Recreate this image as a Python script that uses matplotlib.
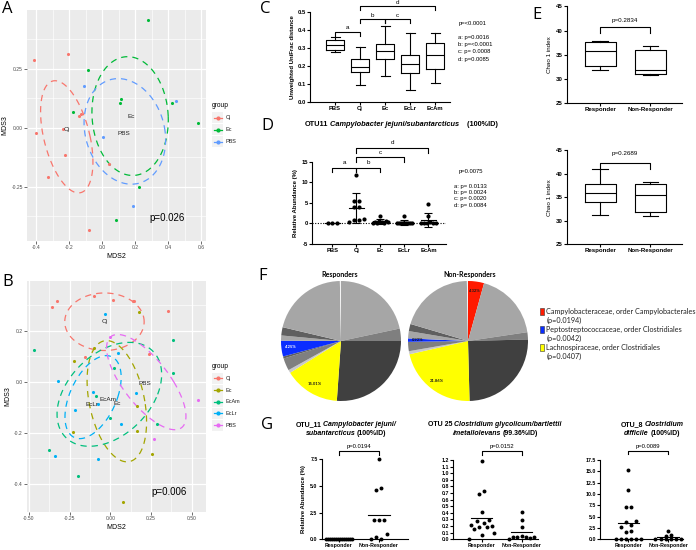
import numpy as np
import matplotlib.pyplot as plt
from matplotlib.patches import Rectangle
from matplotlib.offsetbox import TextArea, HPacker, AnnotationBbox

W, H = 696, 550
plt.rcParams['font.family'] = ['Liberation Sans', 'DejaVu Sans']

# ---------------- data ----------------
# A: NMDS, three groups
a_groups = ['Cj', 'Ec', 'PBS']
a_colors = ['#F8766D', '#00BA38', '#619CFF']
a_x = [[-0.41, -0.204, -0.402, -0.13, -0.14, -0.238, -0.222, -0.325, -0.077, 0.042],
       [0.277, -0.083, -0.176, 0.115, 0.109, 0.422, 0.582, 0.222, 0.085],
       [-0.109, 0.446, 0.008, 0.19]]
a_y = [[0.288, 0.312, -0.023, 0.058, 0.052, -0.006, -0.117, -0.209, -0.432, -0.154],
       [0.456, 0.246, 0.069, 0.124, 0.107, 0.107, 0.021, -0.249, -0.393],
       [0.177, 0.113, -0.037, -0.33]]
# ellipse: centre x, centre y, half width, half height, shear
a_ell = [(-0.214, -0.038, 0.142, 0.238, -0.071),
         (0.17, 0.05, 0.231, 0.252, -0.015),
         (0.138, -0.015, 0.244, 0.224, -0.04)]
a_lab_x = [-0.214, 0.174, 0.135]
a_lab_y = [-0.008, 0.048, -0.023]

# B: NMDS, five groups
b_groups = ['Cj', 'Ec', 'EcAm', 'EcLr', 'PBS']
b_colors = ['#F8766D', '#A3A500', '#00BF7D', '#00B0F6', '#E76BF3']
b_x = [[-0.358, -0.327, -0.102, 0.017, 0.137, 0.145, 0.356, -0.157, 0.237],
       [0.178, -0.225, -0.102, 0.161, 0.167, -0.231, 0.258, 0.079],
       [-0.467, 0.387, 0.385, 0.022, -0.091, -0.005, -0.379, -0.196, 0.284],
       [-0.034, -0.321, -0.214, -0.106, -0.073, 0.155, 0.063, -0.340, -0.075, 0.048],
       [0.539, 0.270, -0.003]]
b_y = [[0.293, 0.317, 0.336, 0.322, 0.318, 0.316, 0.278, 0.099, 0.110],
       [0.275, 0.083, 0.134, -0.094, -0.193, -0.197, -0.284, -0.473],
       [0.125, 0.163, 0.035, 0.053, -0.055, -0.142, -0.266, -0.370, -0.164],
       [0.265, 0.003, -0.112, -0.040, -0.086, -0.043, -0.167, -0.292, -0.301, 0.112],
       [-0.070, -0.226, 0.175]]
b_ell = [(-0.036, 0.236, 0.244, 0.113, 0.0),
         (0.040, -0.076, 0.172, 0.238, -0.062),
         (-0.006, -0.049, 0.297, 0.204, 0.123),
         (-0.106, -0.060, 0.152, 0.163, 0.082),
         (0.221, -0.001, 0.17, 0.187, -0.175)]
b_lab_x = [-0.034, 0.04, -0.012, -0.115, 0.213]
b_lab_y = [0.236, -0.085, -0.068, -0.089, -0.005]

# C: unweighted UniFrac box plots
c_labels = ['PBS', 'Cj', 'Ec', 'EcLr', 'EcAm']
c_whislo = [0.276, 0.093, 0.143, 0.065, 0.105]
c_q1 = [0.29, 0.165, 0.238, 0.16, 0.18]
c_med = [0.318, 0.195, 0.285, 0.21, 0.26]
c_q3 = [0.345, 0.238, 0.322, 0.262, 0.328]
c_whishi = [0.362, 0.305, 0.422, 0.38, 0.383]
c_comp = [('a', 'PBS', 'Cj', 0.39), ('b', 'Cj', 'Ec', 0.46),
          ('c', 'Ec', 'EcLr', 0.46), ('d', 'Cj', 'EcAm', 0.533)]
c_ptext = ['p=<0.0001', 'a: p=0.0016', 'b: p=<0.0001', 'c: p= 0.0008', 'd: p=0.0085']

# D: OTU11 relative abundance
d_pbs = [0, 0, 0]
d_cj = [11.8, 5.5, 5.4, 4.1, 4.0, 1.0, 0.9, 0.8, 0.3]
d_ec = [1.8, 0.6, 0.5, 0.4, 0.3, 0.3, 0.2, 0.2, 0.1]
d_eclr = [1.8, 0.2, 0.1, 0.1, 0.05, 0.05, 0.0, 0.0, 0.0, 0.0]
d_ecam = [4.7, 1.8, 0.3, 0.2, 0.1, 0.05, 0.0, 0.0]
d_comp = [('a', 'PBS', 'Cj', 13.5), ('b', 'Cj', 'Ec', 13.5),
          ('c', 'Cj', 'EcLr', 16.1), ('d', 'Cj', 'EcAm', 18.3)]
d_ptext = ['p=0.0075', 'a: p= 0.0133', 'b: p= 0.0024', 'c: p= 0.0020', 'd: p= 0.0084']

# E: Chao 1
e_groups = ['Responder', 'Non-Responder']
e1_whislo, e1_q1, e1_med, e1_q3, e1_whishi = [31.9, 30.9], [32.6, 31.0], [35.7, 31.9], [37.6, 36.0], [37.8, 36.9]
e2_whislo, e2_q1, e2_med, e2_q3, e2_whishi = [31.3, 30.9], [34.0, 31.8], [35.9, 35.4], [37.7, 37.7], [40.9, 38.3]
e_ptext = ['p=0.2834', 'p=0.2689']

# F: pies (percent, clockwise from 12 o'clock)
f_shade = {'light': '#a6a6a6', 'pale': '#c8c8c8', 'mid': '#7f7f7f', 'dim': '#5f5f5f',
           'dark': '#404040', 'white': '#f4f4f4', 'red': '#ff1a00', 'blue': '#0a2dff', 'yellow': '#ffff00'}
r_sizes = [21.67, 3.33, 26.11, 15.01, 0.83, 3.33, 0.56, 4.25, 1.39, 2.22, 21.0, 0.3]
r_kinds = ['light', 'mid', 'dark', 'yellow', 'pale', 'mid', 'dim', 'blue', 'light', 'dim', 'light', 'white']
n_sizes = [4.32, 18.33, 1.94, 25.0, 21.86, 0.83, 2.5, 0.92, 1.94, 1.94, 20.12, 0.3]
n_kinds = ['red', 'light', 'mid', 'dark', 'yellow', 'pale', 'mid', 'blue', 'light', 'dim', 'light', 'white']
f_legend = ['Campylobacteraceae, order Campylobacterales', '(p=0.0194)',
            'Peptostreptococcaceae, order Clostridiales', '(p=0.0042)',
            'Lachnospiraceae, order Clostridiales', '(p=0.0407)']

# G: three OTUs, responder vs non-responder
g1_resp = [0, 0, 0, 0, 0, 0, 0, 0, 0, 0, 0, 0, 0, 0]
g1_non = [7.5, 4.8, 4.6, 1.8, 1.8, 1.8, 0.5, 0.2, 0.05, 0.0]
g2_resp = [1.18, 0.73, 0.68, 0.41, 0.29, 0.27, 0.25, 0.22, 0.2, 0.19, 0.18, 0.15, 0.1, 0.06, 0.01]
g2_non = [0.41, 0.29, 0.19, 0.05, 0.04, 0.04, 0.03, 0.03, 0.02, 0.01]
g3_resp = [15.4, 10.9, 7.2, 7.2, 4.1, 3.8, 3.2, 2.8, 1.8, 1.7, 0, 0, 0, 0, 0, 0]
g3_non = [1.9, 1.0, 0.8, 0, 0, 0, 0, 0, 0]
g_ptext = ['p=0.0194', 'p=0.0152', 'p=0.0089']


fig = plt.figure(figsize=(W / 100, H / 100), dpi=100)


def add_ax(l, t, r, b):
    return fig.add_axes([l / W, 1 - b / H, (r - l) / W, (b - t) / H])


tt = np.linspace(0, 2 * np.pi, 240)


def gg_panel(ax, xs, ys, ells, labx, laby, cols, names):
    ax.set_facecolor('#EBEBEB')
    for s in ax.spines.values():
        s.set_visible(False)
    ax.grid(which='major', color='white', lw=0.9)
    ax.grid(which='minor', color='white', lw=0.45)
    ax.set_axisbelow(True)
    for x, y, e, c in zip(xs, ys, ells, cols):
        ax.scatter(x, y, s=5, color=c, lw=0, zorder=3)
        cx, cy, rx, ry, kx = e
        ax.plot(cx + rx * np.cos(tt) + kx * np.sin(tt), cy + ry * np.sin(tt),
                color=c, lw=0.9, ls=(0, (5, 4)), zorder=2)
    for x, y, n in zip(labx, laby, names):
        ax.text(x, y, n, fontsize=4.6, ha='center', va='center', color='#222222', zorder=4)
    ax.tick_params(which='major', length=2, width=0.5, color='#333333',
                   labelsize=3.6, labelcolor='#4D4D4D', pad=1)
    ax.tick_params(which='minor', length=0)
    ax.set_xlabel('MDS2', fontsize=5, labelpad=2)
    ax.set_ylabel('MDS3', fontsize=5, labelpad=2)


def prism(ax, fs=4.2):
    for s in ['top', 'right']:
        ax.spines[s].set_visible(False)
    for s in ['left', 'bottom']:
        ax.spines[s].set_linewidth(0.8)
    ax.tick_params(length=2, width=0.8, labelsize=fs, pad=1)
    for lab in ax.get_xticklabels() + ax.get_yticklabels():
        lab.set_fontweight('bold')


def bracket(ax, x1, x2, y, leg, text, ty, fs=4.5):
    ax.plot([x1, x1, x2, x2], [y - leg, y, y, y - leg], color='k', lw=0.8, clip_on=False)
    ax.text((x1 + x2) / 2, ty, text, ha='center', va='center', fontsize=fs, clip_on=False)


def swarm(vals, sep, step, maxw):
    vals = np.asarray(vals, float)
    order = np.argsort(vals, kind='stable')
    groups = [[order[0]]]
    for i in order[1:]:
        if vals[i] - vals[groups[-1][-1]] < sep:
            groups[-1].append(i)
        else:
            groups.append([i])
    off = np.zeros(len(vals))
    for g in groups:
        n = len(g)
        o = (np.arange(n) - (n - 1) / 2) * step
        if n > 1 and np.abs(o).max() > maxw:
            o = o * maxw / np.abs(o).max()
        perm = np.argsort((np.arange(n) * 0.618) % 1)
        off[g] = o[perm]
    return off


# ---------------- A ----------------
axA = add_ax(27, 10, 206, 241)
gg_panel(axA, a_x, a_y, a_ell, a_lab_x, a_lab_y, a_colors, a_groups)
axA.set_xlim(-0.455, 0.63)
axA.set_ylim(-0.48, 0.5)
axA.set_xticks([-0.4, -0.2, 0.0, 0.2, 0.4, 0.6])
axA.set_xticklabels(['-0.4', '-0.2', '0.0', '0.2', '0.4', '0.6'])
axA.set_yticks([-0.25, 0.0, 0.25])
axA.set_yticklabels(['-0.25', '0.00', '0.25'])
axA.set_xticks([-0.3, -0.1, 0.1, 0.3, 0.5], minor=True)
axA.set_yticks([-0.375, -0.125, 0.125, 0.375], minor=True)
axA.text(0.396, -0.383, 'p=0.026', fontsize=7, ha='center', va='center')

# ---------------- B ----------------
axB = add_ax(27, 281, 206, 512)
gg_panel(axB, b_x, b_y, b_ell, b_lab_x, b_lab_y, b_colors, b_groups)
axB.set_xlim(-0.512, 0.588)
axB.set_ylim(-0.511, 0.396)
axB.set_xticks([-0.5, -0.25, 0.0, 0.25, 0.5])
axB.set_xticklabels(['-0.50', '-0.25', '0.00', '0.25', '0.50'])
axB.set_yticks([-0.4, -0.2, 0.0, 0.2])
axB.set_yticklabels(['-0.4', '-0.2', '0.0', '0.2'])
axB.set_xticks([-0.375, -0.125, 0.125, 0.375], minor=True)
axB.set_yticks([-0.3, -0.1, 0.1, 0.3], minor=True)
axB.text(0.36, -0.434, 'p=0.006', fontsize=7, ha='center', va='center')

# ---------------- C ----------------
axC = add_ax(310, 11.7, 450, 102)
lp = dict(color='black', lw=0.8)
c_stats = [dict(label=l, whislo=a, q1=b, med=m, q3=c, whishi=d)
           for l, a, b, m, c, d in zip(c_labels, c_whislo, c_q1, c_med, c_q3, c_whishi)]
c_pos = np.arange(1, len(c_labels) + 1)
axC.bxp(c_stats, positions=c_pos, widths=0.72, showfliers=False,
        boxprops=lp, whiskerprops=lp, capprops=lp, medianprops=lp)
axC.set_xlim(0, 5.6)
axC.set_ylim(0, 0.5)
axC.set_yticks([0.0, 0.1, 0.2, 0.3, 0.4, 0.5])
axC.set_yticklabels(['0.0', '0.1', '0.2', '0.3', '0.4', '0.5'])
axC.set_xticks(c_pos)
axC.set_xticklabels(c_labels)
prism(axC)
axC.set_ylabel('Unweighted UniFrac distance', fontsize=4.3, fontweight='bold', labelpad=2)
for lab, g1, g2, y in c_comp:
    x1, x2 = c_labels.index(g1) + 1, c_labels.index(g2) + 1
    bracket(axC, x1, x2, y, 0.022, lab, y + 0.02)

# ---------------- D ----------------
axD = add_ax(312, 161.7, 446, 244)
d_values = [d_pbs, d_cj, d_ec, d_eclr, d_ecam]
axD.axhline(0, color='k', lw=0.8, ls=(0, (1, 1.4)), zorder=1)
for i, vals in enumerate(d_values):
    p = i + 1
    axD.scatter(p + swarm(vals, 0.9, 0.2, 0.32), vals, s=9, color='k', lw=0, zorder=3)
    m, sd = np.mean(vals), np.std(vals, ddof=1)
    axD.plot([p - 0.31, p + 0.31], [m, m], color='k', lw=0.8, zorder=4)
    if sd > 0:
        axD.errorbar(p, m, yerr=sd, color='k', lw=0.8, capsize=2.8, capthick=0.8, zorder=4)
axD.set_xlim(0.15, 5.73)
axD.set_ylim(-5, 15)
axD.set_yticks([-5, 0, 5, 10, 15])
axD.set_yticklabels(['-5', '0', '5', '10', '15'])
axD.set_xticks(c_pos)
axD.set_xticklabels(c_labels)
prism(axD)
axD.set_ylabel('Relative Abundance (%)', fontsize=4.3, fontweight='bold', labelpad=2)
for lab, g1, g2, y in d_comp:
    x1, x2 = c_labels.index(g1) + 1, c_labels.index(g2) + 1
    bracket(axD, x1, x2, y, 1.1, lab, y + 1.25)

# ---------------- E ----------------
e_sets = [(e1_whislo, e1_q1, e1_med, e1_q3, e1_whishi), (e2_whislo, e2_q1, e2_med, e2_q3, e2_whishi)]
e_boxes = [(6.3, 103.3), (150, 244.3)]
e_brk = [(40.7, 1.25, 42.1), (42.2, 1.25, 44.2)]
for (top, bot), st, pt, (by, bl, bt) in zip(e_boxes, e_sets, e_ptext, e_brk):
    ax = add_ax(567, top, 682, bot)
    stats = [dict(label=g, whislo=a, q1=b, med=m, q3=c, whishi=d)
             for g, a, b, m, c, d in zip(e_groups, *st)]
    ax.bxp(stats, positions=[1, 2], widths=0.62, showfliers=False,
           boxprops=lp, whiskerprops=lp, capprops=lp, medianprops=lp)
    ax.set_xlim(0.34, 2.63)
    ax.set_ylim(25, 45)
    ax.set_yticks([25, 30, 35, 40, 45])
    ax.set_yticklabels(['25', '30', '35', '40', '45'])
    ax.set_xticks([1, 2])
    ax.set_xticklabels(e_groups)
    prism(ax, 4.4)
    ax.set_ylabel('Chao 1 index', fontsize=4.5, labelpad=3)
    bracket(ax, 1, 2, by, bl, pt, bt)

# ---------------- F ----------------
for (cx, title, sizes, kinds) in [(341, 'Responders', r_sizes, r_kinds),
                                  (468, 'Non-Responders', n_sizes, n_kinds)]:
    ax = add_ax(cx - 60, 281, cx + 60, 401)
    ax.pie(sizes, colors=[f_shade[k] for k in kinds], startangle=90, counterclock=False,
           wedgeprops=dict(lw=0))
    ax.set_xlim(-1, 1)
    ax.set_ylim(-1, 1)
    ax.set_aspect('equal')
    ang = 90.0
    for s, k in zip(sizes, kinds):
        mid = np.radians(ang - s * 3.6 / 2)
        ang -= s * 3.6
        if k in ('red', 'blue', 'yellow'):
            tc = 'white' if (k == 'blue' and s > 2) else '#1a1a1a'
            ax.text(0.84 * np.cos(mid), 0.84 * np.sin(mid), f'{s:.2f}%', fontsize=3.0,
                    fontweight='bold', ha='center', va='center', color=tc, family='Lato')

# ---------------- G ----------------
g_data = [(g1_resp, g1_non), (g2_resp, g2_non), (g3_resp, g3_non)]
g_rects = [(321.7, 459.3, 408, 539.3), (453.3, 460, 538, 539.3), (600, 460, 683, 539.3)]
g_xlim = [(0.575, 2.73), (0.29, 2.41), (0.29, 2.37)]
g_ylim = [7.5, 1.2, 17.5]
g_ticks = [[0, 2.5, 5.0, 7.5], [0, 0.1, 0.2, 0.3, 0.4, 0.5, 0.6, 0.7, 0.8, 0.9, 1.0, 1.1, 1.2],
           [0, 2.5, 5.0, 7.5, 10.0, 12.5, 15.0, 17.5]]
g_sep = [0.35, 0.055, 0.8]
g_brk = [(8.28, 0.33, 8.72), (1.336, 0.053, 1.405), (19.5, 0.78, 20.5)]
for k in range(3):
    ax = add_ax(*g_rects[k])
    for p, vals in zip([1, 2], g_data[k]):
        ax.scatter(p + swarm(vals, g_sep[k], 0.13, 0.32), vals, s=8, color='k', lw=0,
                   zorder=3, clip_on=False)
        m = np.mean(vals)
        ax.plot([p - 0.27, p + 0.27], [m, m], color='k', lw=0.8, zorder=4)
    ax.set_xlim(*g_xlim[k])
    ax.set_ylim(0, g_ylim[k])
    ax.set_yticks(g_ticks[k])
    ax.set_yticklabels([f'{v:.1f}' for v in g_ticks[k]])
    ax.set_xticks([1, 2])
    ax.set_xticklabels(e_groups)
    prism(ax, 3.8)
    by, bl, bt = g_brk[k]
    bracket(ax, 1, 2, by, bl, g_ptext[k], bt, fs=4.2)
    if k == 0:
        ax.set_ylabel('Relative Abundance (%)', fontsize=4.3, fontweight='bold', labelpad=3)

# ---------------- overlay: letters, legends, titles ----------------
ov = fig.add_axes([0, 0, 1, 1])
ov.set_xlim(0, W)
ov.set_ylim(H, 0)
ov.axis('off')

for letter, x, y in [('A', 2, 1), ('B', 2, 274), ('C', 260, 1), ('D', 261, 118),
                     ('E', 532, 7), ('F', 258, 268), ('G', 261, 417)]:
    ov.text(x, y, letter, fontsize=12, va='top', ha='left', family='Open Sans')


def gg_legend(x, y0, dy, names, cols):
    ov.text(x, y0 - dy, 'group', fontsize=4.8, va='center', ha='left')
    for i, (n, c) in enumerate(zip(names, cols)):
        y = y0 + i * dy
        ov.add_patch(Rectangle((x, y - 5.5), 11, 11, color='#F2F2F2', lw=0))
        ov.plot([x + 1.5, x + 9.5], [y, y], color=c, lw=0.9)
        ov.plot([x + 5.5], [y], 'o', color=c, ms=2)
        ov.text(x + 14, y, n, fontsize=4, va='center', ha='left', color='#222222')


gg_legend(212, 117.7, 12, a_groups, a_colors)
gg_legend(212, 378.3, 11.7, b_groups, b_colors)

for i, s in enumerate(c_ptext):
    ov.text(458 if i else 459, [24, 37.7, 44.3, 51.7, 59.3][i], s, fontsize=4.2, va='center')
for i, s in enumerate(d_ptext):
    ov.text(459 if i == 0 else 454, [171, 186.7, 192.7, 198.7, 205][i], s, fontsize=4.2, va='center')


def rich(x, y, parts, fs, align):
    boxes = [TextArea(s, textprops=dict(fontsize=fs, fontweight='bold', fontstyle=st))
             for s, st in parts]
    pack = HPacker(children=boxes, pad=0, sep=1.3, align='baseline')
    ab = AnnotationBbox(pack, (x, y), xycoords='data', box_alignment=(align, 0.5),
                        frameon=False, pad=0, annotation_clip=False)
    ov.add_artist(ab)


rich(305, 125, [('OTU11', 'normal'), ('Campylobacter jejuni/subantarcticus', 'italic'),
                ('   (100%ID)', 'normal')], 5.3, 0)
g_title = [
    ([('OTU_11', 'normal'), ('Campylobacter jejuni/', 'italic')],
     [('subantarcticus', 'italic'), ('(100%ID)', 'normal')], 346),
    ([('OTU 25', 'normal'), ('Clostridium glycolicum/bartlettii', 'italic')],
     [('/metallolevans', 'italic'), ('(99.36%ID)', 'normal')], 495),
    ([('OTU_8', 'normal'), ('Clostridium', 'italic')],
     [('difficile', 'italic'), ('(100%ID)', 'normal')], 652),
]
for l1, l2, x in g_title:
    rich(x, 425, l1, 5.0, 0.5)
    rich(x, 433.3, l2, 5.0, 0.5)

ov.text(340, 275, 'Responders', fontsize=5, fontweight='bold', ha='center', va='center', family='Lato')
ov.text(470, 275, 'Non-Responders', fontsize=5, fontweight='bold', ha='center', va='center', family='Lato')

leg_cols = [f_shade['red'], f_shade['blue'], f_shade['yellow']]
for i, s in enumerate(f_legend):
    y = [311.7, 320.2, 329.7, 338.2, 347.7, 356.7][i]
    if i % 2 == 0:
        ov.add_patch(Rectangle((539.5, y - 3.5), 4.5, 7, facecolor=leg_cols[i // 2],
                               edgecolor='#333333', lw=0.4))
    ov.text(546.5, y, s, fontsize=5.2, va='center', ha='left', family='Lato', color='#222222')

fig.savefig('out.png', dpi=100)
